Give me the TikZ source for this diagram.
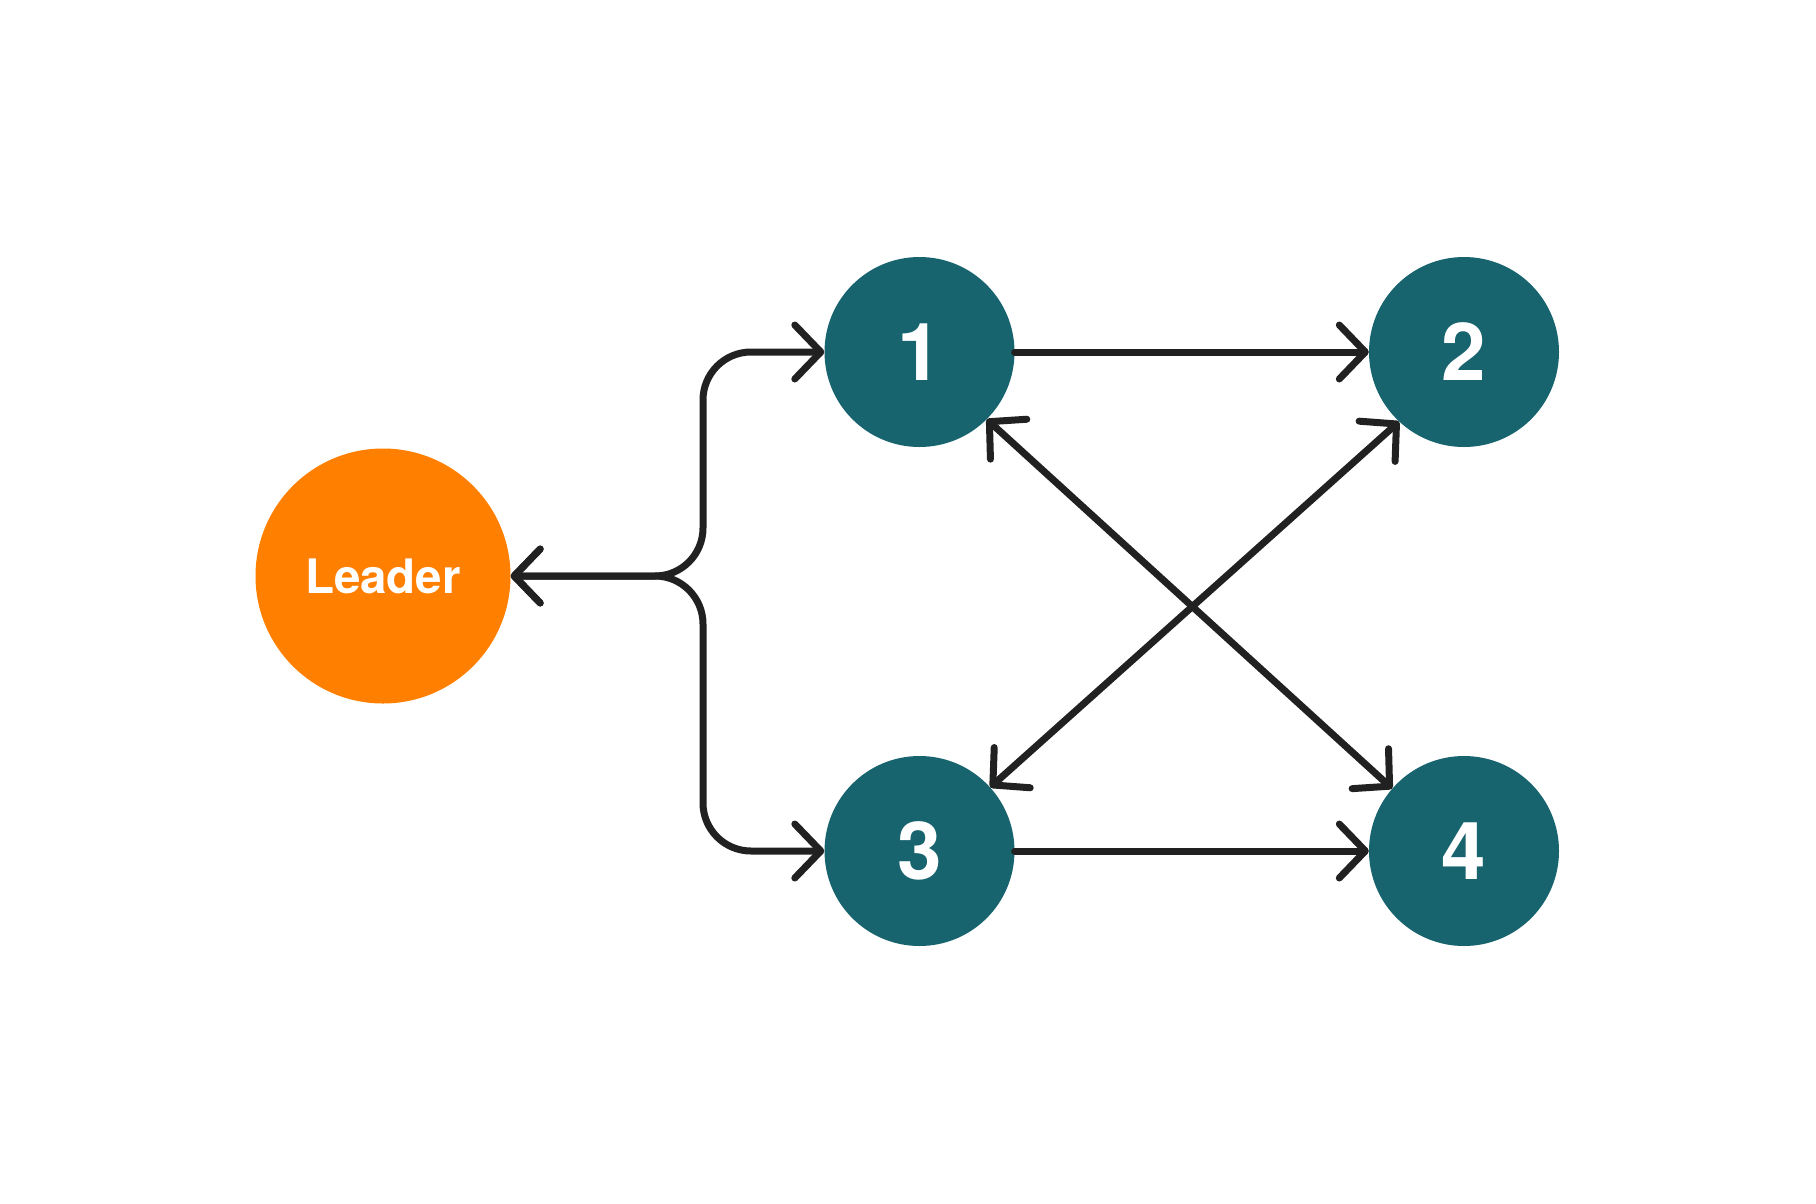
\documentclass[tikz,border=0pt]{standalone}
\usepackage{fontspec}
\setmainfont{TeX Gyre Heros}
\usetikzlibrary{arrows.meta}
\definecolor{leadorange}{HTML}{FF7F00}
\definecolor{nodeteal}{HTML}{17636E}
\definecolor{linegray}{HTML}{212121}
\begin{document}
\begin{tikzpicture}[x=1pt,y=-1pt,
  leader/.style={circle, fill=leadorange, minimum size=255pt, inner sep=0pt, text=white, font=\bfseries\fontsize{47.5}{50}\selectfont},
  peer/.style={circle, fill=nodeteal, minimum size=190pt, inner sep=0pt, text=white, font=\bfseries\fontsize{80}{80}\selectfont},
  conn/.style={draw=linegray, line width=7pt, line cap=round, line join=round,
    arrows={-Straight Barb[length=26pt, width=54pt, round]}},
  bconn/.style={conn, arrows={Straight Barb[length=26pt, width=54pt, round]-Straight Barb[length=26pt, width=54pt, round]}}
]
\useasboundingbox (0,0) rectangle (1816,1203);
\node[leader] (L) at (383,576) {Leader};
\node[peer] (n1) at (919.5,352) {1};
\node[peer] (n2) at (1464,352) {2};
\node[peer] (n3) at (919.5,851) {3};
\node[peer] (n4) at (1464,851) {4};
\coordinate (f) at (703,576);
\draw[bconn, rounded corners=48pt] (L.east) -- (f) |- (n1.west);
\draw[bconn, rounded corners=48pt] (L.east) -- (f) |- (n3.west);
\draw[conn] (n1.east) -- (n2.west);
\draw[conn] (n3.east) -- (n4.west);
\draw[bconn] (n1.-45) -- (n4.139);
\draw[bconn] (n2.227) -- (n3.42);
\end{tikzpicture}
\end{document}
